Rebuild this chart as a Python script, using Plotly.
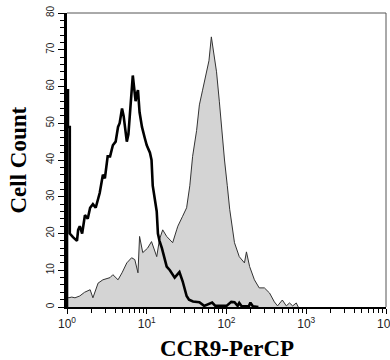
import plotly.graph_objects as go

# Isotype control histogram (thick black line): log10 channel position, cell count
control_exp = [0.0, 0.0, 0.012, 0.012, 0.035, 0.035, 0.075, 0.125, 0.14, 0.16,
               0.19, 0.225, 0.26, 0.29, 0.325, 0.36, 0.41, 0.45, 0.475, 0.51,
               0.54, 0.575, 0.61, 0.64, 0.66, 0.69, 0.71, 0.725, 0.75, 0.77,
               0.79, 0.81, 0.825, 0.84, 0.86, 0.875, 0.89, 0.91, 0.94, 0.975,
               1.0, 1.04, 1.06, 1.075, 1.1, 1.125, 1.14, 1.16, 1.19, 1.225,
               1.25, 1.29, 1.35, 1.41, 1.45, 1.5, 1.53, 1.58, 1.66, 1.72,
               1.78, 1.82, 1.86, 2.0, 2.06, 2.1, 2.14, 2.16, 2.19, 2.28,
               2.3, 2.33, 2.4]
control_count = [0, 59, 59, 49, 49, 20, 19, 18, 21, 22,
                 20, 25, 24, 27, 28, 27, 31, 36, 35, 41,
                 41, 44, 45, 49, 50, 54, 52, 49, 45, 47,
                 53, 59, 63, 60, 56, 58, 59, 53, 49, 46,
                 44, 42, 40, 33, 29, 26, 20, 18, 16, 13,
                 11, 10, 8, 9.5, 7, 3, 2, 1.5, 1.3, 0.3,
                 0.8, 1.2, 0.3, 0.3, 1.4, 1.3, 0.3, 1.1, 0.2, 0.2,
                 1.2, 0.2, 0]

# CCR9 stained histogram (grey filled)
ccr9_exp = [0.0, 0.0, 0.02, 0.06, 0.1, 0.16, 0.22, 0.29, 0.325, 0.39,
            0.45, 0.54, 0.575, 0.64, 0.69, 0.75, 0.81, 0.85, 0.89, 0.91,
            0.95, 1.01, 1.06, 1.125, 1.16, 1.2, 1.25, 1.29, 1.325, 1.375,
            1.39, 1.45, 1.5, 1.54, 1.575, 1.625, 1.66, 1.7, 1.75, 1.78,
            1.81, 1.85, 1.875, 1.91, 1.94, 1.975, 2.01, 2.04, 2.1, 2.16,
            2.225, 2.25, 2.29, 2.35, 2.41, 2.475, 2.54, 2.6, 2.64, 2.7,
            2.75, 2.79, 2.83, 2.875, 2.9]
ccr9_count = [0, 3, 2.5, 2.7, 2.5, 3, 4, 4.7, 2.5, 6.5,
              7.4, 8, 8.8, 7.4, 9.3, 12, 13.4, 12.9, 9.3, 19.2,
              14.8, 16, 17.8, 13.7, 18.4, 21, 19.2, 18.4, 17.5, 21,
              22, 24.7, 27, 33, 41, 48, 55, 59, 64, 67,
              73.5, 68, 64, 56, 48, 40, 33, 26.6, 17.5, 13.7,
              12, 15, 11, 7.4, 5.2, 5.2, 3.8, 1.4, 0.3, 1.9,
              0.3, 1.1, 0.3, 1.1, 0]

x_tickvals = [1, 10, 100, 1000, 10000]
x_ticktext = ["10<sup>0</sup>", "10<sup>1</sup>", "10<sup>2</sup>",
              "10<sup>3</sup>", "10<sup>4</sup>"]
y_tickvals = [0, 10, 20, 30, 40, 50, 60, 70, 80]

fig = go.Figure()
fig.add_trace(go.Scatter(
    x=[10 ** e for e in ccr9_exp], y=ccr9_count, mode="lines",
    line=dict(color="#333333", width=1), fill="tozeroy",
    fillcolor="#d4d4d4", showlegend=False))
fig.add_trace(go.Scatter(
    x=[10 ** e for e in control_exp], y=control_count, mode="lines",
    line=dict(color="#000000", width=2.6), showlegend=False))

serif = "Liberation Serif, Times New Roman, serif"
sans = "Liberation Sans, Arial, sans-serif"

fig.update_layout(
    width=390, height=360,
    margin=dict(l=67, r=4, t=13, b=53),
    paper_bgcolor="white", plot_bgcolor="white",
    xaxis=dict(type="log", range=[0, 4], tickvals=x_tickvals, ticktext=x_ticktext,
               automargin=False, ticklabeloverflow="allow",
               ticks="outside", ticklen=5, tickwidth=1, tickcolor="black",
               showgrid=False, zeroline=False, showline=True, linecolor="black",
               linewidth=2, tickfont=dict(family=sans, size=12, color="#222"),
               minor=dict(ticks="outside", ticklen=4, tickwidth=1, tickcolor="black",
                          dtick="D1", showgrid=False)),
    yaxis=dict(range=[0, 80], tickvals=y_tickvals, ticks="outside", ticklen=6,
               automargin=False,
               tickwidth=1, tickcolor="black", tickangle=-90,
               showgrid=False, zeroline=False, showline=True, linecolor="black",
               linewidth=3, tickfont=dict(family=sans, size=10, color="#222"),
               minor=dict(ticks="outside", ticklen=4, tickwidth=1, tickcolor="black",
                          dtick=2, showgrid=False)),
    shapes=[
        dict(type="line", xref="paper", yref="paper", x0=0, x1=1, y0=1, y1=1,
             line=dict(color="#555555", width=1)),
        dict(type="line", xref="paper", yref="paper", x0=1, x1=1, y0=0, y1=1,
             line=dict(color="#555555", width=1)),
    ],
    annotations=[
        dict(text="<b>CCR9-PerCP</b>", xref="paper", yref="paper", x=0.5, y=-0.14,
             xanchor="center", yanchor="middle", showarrow=False,
             font=dict(family=serif, size=23, color="black")),
        dict(text="<b>Cell Count</b>", xref="paper", yref="paper", x=-0.155, y=0.5,
             xanchor="center", yanchor="middle", showarrow=False, textangle=-90,
             font=dict(family=serif, size=23, color="black")),
    ],
)

fig.write_html("out.html", config={"displayModeBar": False},
               post_script="document.body.style.margin='0';")
